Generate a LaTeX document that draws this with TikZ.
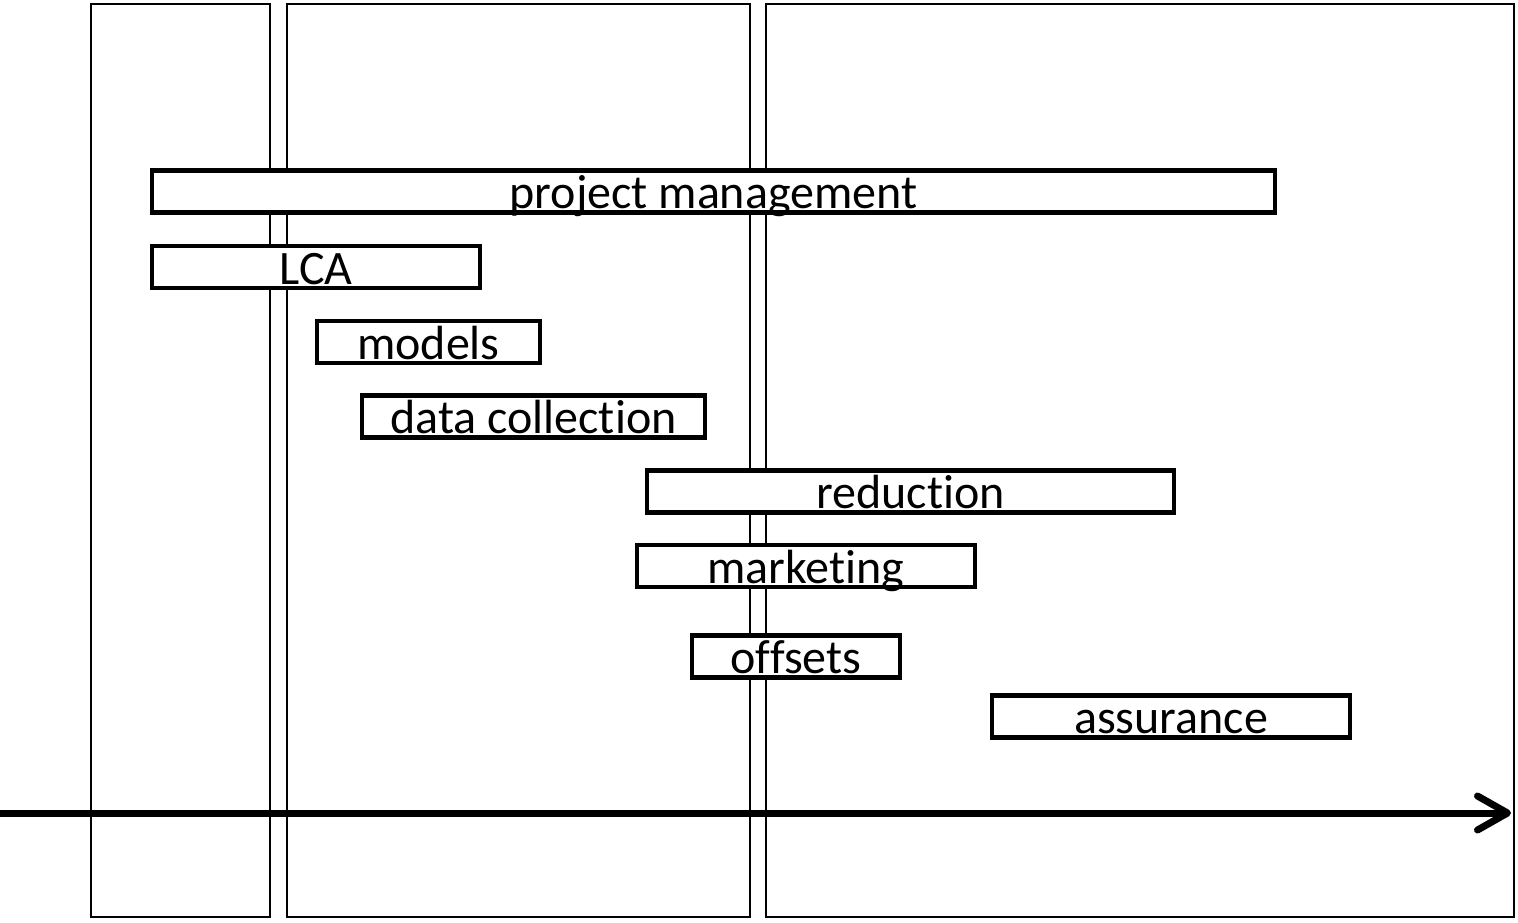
\documentclass[tikz,border=0pt]{standalone}
\usepackage{fontspec}
\setmainfont[Ligatures={NoCommon}]{Carlito}
\usetikzlibrary{arrows.meta}
\begin{document}
\begin{tikzpicture}[x=1pt,y=-1pt,
  column/.style={draw=black,line width=2pt},
  bar/.style={draw=black,fill=white,line width=4.5pt,rectangle,
    minimum height=42pt,inner xsep=0pt,inner ysep=2pt,text depth=2pt,text height=36pt,
    font=\fontsize{48}{52}\selectfont},
  timeline/.style={line width=7pt,line cap=round,-{Straight Barb[length=30pt,width=34pt,line cap=round,line join=round]}}]
\useasboundingbox (0,0) rectangle (1518,922);
% phase columns
\draw[column] (91,4) rectangle (270,917);
\draw[column] (287,4) rectangle (750,917);
\draw[column] (766,4) rectangle (1514,917);
% activity bars
\node[bar,minimum width=1123pt] (pm) at (713.5,191.5) {project management};
\node[bar,minimum width=328pt] (lca) at (316,267) {LCA};
\node[bar,minimum width=223pt] (models) at (428.5,342) {models};
\node[bar,minimum width=343pt] (data) at (533.5,416.5) {data collection};
\node[bar,minimum width=527pt] (red) at (910.5,491.5) {reduction};
\node[bar,minimum width=338pt] (mkt) at (806,566) {marketing};
\node[bar,minimum width=208pt] (off) at (796,656.5) {offsets};
\node[bar,minimum width=358pt] (ass) at (1171,716.5) {assurance};
% time axis
\coordinate (t0) at (0,813);
\coordinate (t1) at (1511,813);
\draw[timeline] (t0) -- (t1);
\end{tikzpicture}
\end{document}
